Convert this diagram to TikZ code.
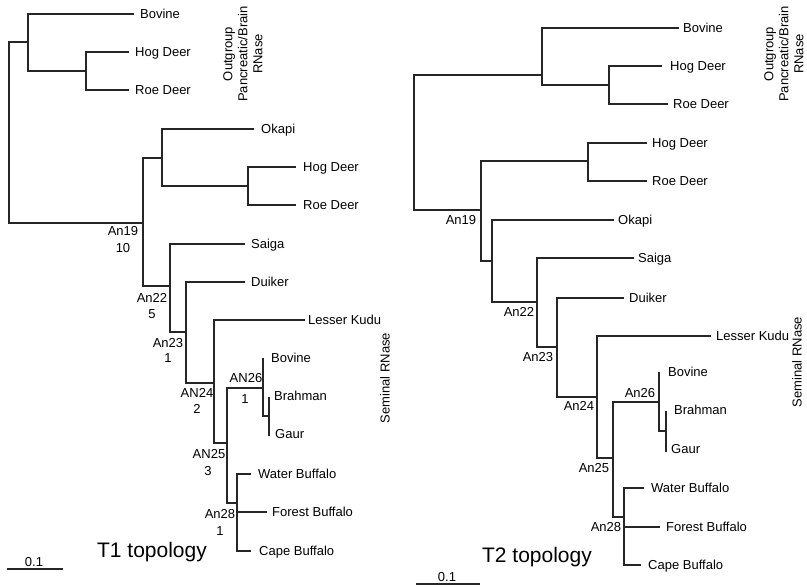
\documentclass[tikz,border=0pt]{standalone}
\usepackage{fontspec}
\setmainfont{Liberation Sans}
\begin{document}
\begin{tikzpicture}[x=1pt,y=-1pt,
  branch/.style={draw=black!85,line width=1.2pt,line cap=rect},
  leaf/.style={anchor=west,inner sep=0pt,text height=9.3pt,text depth=0pt,font=\fontsize{13}{15}\selectfont},
  nlabel/.style={anchor=center,inner sep=0pt,text height=9.3pt,text depth=0pt,font=\fontsize{13}{15}\selectfont},
  group/.style={rotate=90,align=center,inner sep=0pt,font=\fontsize{13}{15}\selectfont},
  title/.style={anchor=center,inner sep=0pt,font=\fontsize{21}{24}\selectfont}]
\useasboundingbox (0,0) rectangle (807,587);

% ---------------- T1 topology ----------------
% internal nodes
\coordinate (a0)  at (9,42);
\coordinate (aO)  at (28,42);
\coordinate (aHR) at (86,71);
\coordinate (a19) at (143,223);
\coordinate (aOk) at (162,158);
\coordinate (aH2) at (248,186);
\coordinate (a22) at (170,286);
\coordinate (a23) at (186,332);
\coordinate (a24) at (214,383);
\coordinate (a25) at (227,443);
\coordinate (a26) at (263,388);
\coordinate (aBG) at (269,416);
\coordinate (a28) at (237,503);
% tips
\coordinate (tBov) at (133,14);
\coordinate (tHog) at (128,52);
\coordinate (tRoe) at (128,90);
\coordinate (tOka) at (253,129);
\coordinate (tHo2) at (295,167);
\coordinate (tRo2) at (295,205);
\coordinate (tSai) at (244,244);
\coordinate (tDui) at (244,282);
\coordinate (tLK)  at (304,320);
\coordinate (tBo2) at (263,359);
\coordinate (tBra) at (269,398);
\coordinate (tGau) at (269,435);
\coordinate (tWat) at (250,474);
\coordinate (tFor) at (266,512);
\coordinate (tCap) at (250,551);

% branches
\draw[branch] (aO) -- (a0 |- aO) -- (a0 |- a19) -- (a19);
\draw[branch] (tBov) -- (aO |- tBov) -- (aO |- aHR) -- (aHR);
\draw[branch] (tHog) -- (aHR |- tHog) -- (aHR |- tRoe) -- (tRoe);
\draw[branch] (aOk) -- (a19 |- aOk) -- (a19 |- a22) -- (a22);
\draw[branch] (tOka) -- (aOk |- tOka) -- (aOk |- aH2) -- (aH2);
\draw[branch] (tHo2) -- (aH2 |- tHo2) -- (aH2 |- tRo2) -- (tRo2);
\draw[branch] (tSai) -- (a22 |- tSai) -- (a22 |- a23) -- (a23);
\draw[branch] (tDui) -- (a23 |- tDui) -- (a23 |- a24) -- (a24);
\draw[branch] (tLK) -- (a24 |- tLK) -- (a24 |- a25) -- (a25);
\draw[branch] (a26) -- (a25 |- a26) -- (a25 |- a28) -- (a28);
\draw[branch] (tBo2) -- (a26 |- aBG) -- (aBG);
\draw[branch] (tBra) -- (tGau);
\draw[branch] (tWat) -- (a28 |- tWat) -- (a28 |- tCap) -- (tCap);
\draw[branch] (a28 |- tFor) -- (tFor);

% tip labels
\node[leaf] (lBov) at (140,14)  {Bovine};
\node[leaf] (lHog) at (135,52)  {Hog Deer};
\node[leaf] (lRoe) at (135,90)  {Roe Deer};
\node[leaf] (lOka) at (261,129) {Okapi};
\node[leaf] (lHo2) at (303,167) {Hog Deer};
\node[leaf] (lRo2) at (303,205) {Roe Deer};
\node[leaf] (lSai) at (251,244) {Saiga};
\node[leaf] (lDui) at (251,282) {Duiker};
\node[leaf] (lLK)  at (308,320) {Lesser Kudu};
\node[leaf] (lBo2) at (271,358) {Bovine};
\node[leaf] (lBra) at (274,396) {Brahman};
\node[leaf] (lGau) at (275,434) {Gaur};
\node[leaf] (lWat) at (258,474) {Water Buffalo};
\node[leaf] (lFor) at (272,512) {Forest Buffalo};
\node[leaf] (lCap) at (259,551) {Cape Buffalo};

% ancestral node labels
\node[nlabel] (n19)  at (123,231) {An19};
\node[nlabel] (n19c) at (123,248) {10};
\node[nlabel] (n22)  at (152,298) {An22};
\node[nlabel] (n22c) at (152,314) {5};
\node[nlabel] (n23)  at (168,343) {An23};
\node[nlabel] (n23c) at (168,358) {1};
\node[nlabel] (n24)  at (197,393) {AN24};
\node[nlabel] (n24c) at (197,409) {2};
\node[nlabel] (n25)  at (209,454) {AN25};
\node[nlabel] (n25c) at (208,471) {3};
\node[nlabel] (n26)  at (246,378) {AN26};
\node[nlabel] (n26c) at (245,399) {1};
\node[nlabel] (n28)  at (220,514) {An28};
\node[nlabel] (n28c) at (220,531) {1};

% group labels, title and scale
\node[group] (gOut) at (243,54) {Outgroup\\Pancreatic/Brain\\RNase};
\node[group] (gSem) at (385,378) {Seminal RNase};
\node[title] (ttl1) at (152,552) {T1 topology};
\coordinate (s1a) at (7,569);
\coordinate (s1b) at (63,569);
\draw[branch,line cap=butt] (s1a) -- (s1b);
\node[nlabel] (s1t) at (34,562) {0.1};

% ---------------- T2 topology ----------------
% internal nodes
\coordinate (b0)  at (414,75);
\coordinate (bO)  at (542,75);
\coordinate (bHR) at (609,85);
\coordinate (b19) at (481,210);
\coordinate (bH2) at (588,161);
\coordinate (bX)  at (492,261);
\coordinate (b22) at (537,302);
\coordinate (b23) at (557,347);
\coordinate (b24) at (597,397);
\coordinate (b25) at (613,458);
\coordinate (b26) at (659,402);
\coordinate (bBG) at (666,431);
\coordinate (b28) at (624,517);
% tips
\coordinate (uBov) at (678,28);
\coordinate (uHog) at (661,66);
\coordinate (uRoe) at (667,104);
\coordinate (uHo2) at (646,143);
\coordinate (uRo2) at (646,181);
\coordinate (uOka) at (613,220);
\coordinate (uSai) at (633,258);
\coordinate (uDui) at (623,298);
\coordinate (uLK)  at (710,336);
\coordinate (uBo2) at (659,373);
\coordinate (uBra) at (666,412);
\coordinate (uGau) at (666,451);
\coordinate (uWat) at (643,488);
\coordinate (uFor) at (659,527);
\coordinate (uCap) at (640,565);

% branches
\draw[branch] (bO) -- (b0 |- bO) -- (b0 |- b19) -- (b19);
\draw[branch] (uBov) -- (bO |- uBov) -- (bO |- bHR) -- (bHR);
\draw[branch] (uHog) -- (bHR |- uHog) -- (bHR |- uRoe) -- (uRoe);
\draw[branch] (bH2) -- (b19 |- bH2) -- (b19 |- bX) -- (bX);
\draw[branch] (uHo2) -- (bH2 |- uHo2) -- (bH2 |- uRo2) -- (uRo2);
\draw[branch] (uOka) -- (bX |- uOka) -- (bX |- b22) -- (b22);
\draw[branch] (uSai) -- (b22 |- uSai) -- (b22 |- b23) -- (b23);
\draw[branch] (uDui) -- (b23 |- uDui) -- (b23 |- b24) -- (b24);
\draw[branch] (uLK) -- (b24 |- uLK) -- (b24 |- b25) -- (b25);
\draw[branch] (b26) -- (b25 |- b26) -- (b25 |- b28) -- (b28);
\draw[branch] (uBo2) -- (b26 |- bBG) -- (bBG);
\draw[branch] (uBra) -- (uGau);
\draw[branch] (uWat) -- (b28 |- uWat) -- (b28 |- uCap) -- (uCap);
\draw[branch] (b28 |- uFor) -- (uFor);

% tip labels
\node[leaf] (mBov) at (683,28)  {Bovine};
\node[leaf] (mHog) at (670,66)  {Hog Deer};
\node[leaf] (mRoe) at (673,104) {Roe Deer};
\node[leaf] (mHo2) at (652,143) {Hog Deer};
\node[leaf] (mRo2) at (652,181) {Roe Deer};
\node[leaf] (mOka) at (618,220) {Okapi};
\node[leaf] (mSai) at (638,258) {Saiga};
\node[leaf] (mDui) at (629,298) {Duiker};
\node[leaf] (mLK)  at (716,336) {Lesser Kudu};
\node[leaf] (mBo2) at (668,372) {Bovine};
\node[leaf] (mBra) at (674,410) {Brahman};
\node[leaf] (mGau) at (671,449) {Gaur};
\node[leaf] (mWat) at (651,488) {Water Buffalo};
\node[leaf] (mFor) at (666,527) {Forest Buffalo};
\node[leaf] (mCap) at (648,565) {Cape Buffalo};

% ancestral node labels
\node[nlabel] (m19) at (461,220) {An19};
\node[nlabel] (m22) at (519,312) {An22};
\node[nlabel] (m23) at (538,357) {An23};
\node[nlabel] (m24) at (579,406) {An24};
\node[nlabel] (m25) at (594,468) {An25};
\node[nlabel] (m26) at (640,393) {An26};
\node[nlabel] (m28) at (606,527) {An28};

% group labels, title and scale
\node[group] (hOut) at (784,54) {Outgroup\\Pancreatic/Brain\\RNase};
\node[group] (hSem) at (797,362) {Seminal RNase};
\node[title] (ttl2) at (537,557) {T2 topology};
\coordinate (s2a) at (416,584);
\coordinate (s2b) at (480,584);
\draw[branch,line cap=butt] (s2a) -- (s2b);
\node[nlabel] (s2t) at (447,577) {0.1};
\end{tikzpicture}
\end{document}
